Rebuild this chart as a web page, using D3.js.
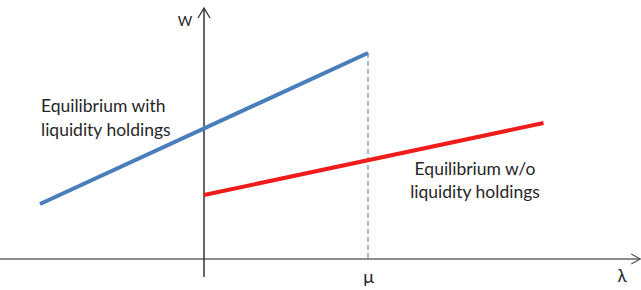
<!DOCTYPE html>
<html>
<head>
<meta charset="utf-8">
<script src="https://cdn.jsdelivr.net/npm/d3@7"></script>
<style>
  body { margin: 0; background: #fff; }
  svg { display: block; }
  text { font-family: Lato, "Open Sans", sans-serif; fill: #262626; }
</style>
</head>
<body>
<div id="chart"></div>
<script>
// lambda positions (vertical axis at 0, mu at 1)
const muValue = 1;
const blueLambda = [-1, 1];
const blueW = [0.55, 2.06];
const redLambda = [0, 2.07];
const redW = [0.64, 1.36];
const xLimits = [-1.245, 2.66];
const yLimits = [-0.18, 2.51];
const leftLabel = ["Equilibrium with", "liquidity holdings"];
const rightLabel = ["Equilibrium w/o", "liquidity holdings"];

const w = 641, h = 290;

const svg = d3.select('#chart')
  .append('svg')
  .attr('width', w)
  .attr('height', h);

const x = d3.scaleLinear().domain([0, 1]).range([204, 368]);
const y = d3.scaleLinear().domain([0, 2.5]).range([259, 9]);

// horizontal axis
svg.append('line')
  .attr('x1', x(xLimits[0])).attr('x2', x(xLimits[1]))
  .attr('y1', y(0)).attr('y2', y(0))
  .attr('stroke', '#8c8c8c').attr('stroke-width', 2);
svg.append('path')
  .attr('d', `M${x(xLimits[1]) - 9},${y(0) - 5} L${x(xLimits[1])},${y(0)} L${x(xLimits[1]) - 9},${y(0) + 5}`)
  .attr('fill', 'none').attr('stroke', '#555').attr('stroke-width', 1.2);

// vertical axis
svg.append('line')
  .attr('x1', x(0)).attr('x2', x(0))
  .attr('y1', y(yLimits[0])).attr('y2', y(yLimits[1]))
  .attr('stroke', '#333').attr('stroke-width', 1.5);
svg.append('path')
  .attr('d', `M${x(0) - 6},${y(yLimits[1]) + 10} L${x(0)},${y(yLimits[1])} L${x(0) + 6},${y(yLimits[1]) + 10}`)
  .attr('fill', 'none').attr('stroke', '#333').attr('stroke-width', 1.3);

// mu tick label via axis
const muAxis = svg.append('g')
  .attr('transform', `translate(0,${y(0) + 8})`)
  .call(d3.axisBottom(x).tickValues([muValue]).tickSize(0).tickFormat(() => 'μ'));
muAxis.select('.domain').remove();
muAxis.selectAll('text')
  .style('font-family', 'Lato, sans-serif')
  .style('font-size', '18px')
  .attr('fill', '#262626');

// axis titles
svg.append('text')
  .attr('x', 185).attr('y', 26)
  .attr('text-anchor', 'middle')
  .style('font-size', '14px')
  .text('W');
svg.append('text')
  .attr('x', 622).attr('y', 282)
  .attr('text-anchor', 'middle')
  .style('font-size', '17px')
  .text('λ');

// dashed drop line at mu
svg.append('line')
  .attr('x1', x(muValue)).attr('x2', x(muValue))
  .attr('y1', y(blueW[1])).attr('y2', y(0))
  .attr('stroke', '#7fa6d8').attr('stroke-width', 1.5)
  .attr('stroke-dasharray', '5,3');

const line = d3.line().x(d => x(d[0])).y(d => y(d[1]));

svg.append('path')
  .datum(d3.zip(blueLambda, blueW))
  .attr('d', line)
  .attr('fill', 'none')
  .attr('stroke', '#4a7ebb')
  .attr('stroke-width', 4);

svg.append('path')
  .datum(d3.zip(redLambda, redW))
  .attr('d', line)
  .attr('fill', 'none')
  .attr('stroke', '#f01c1c')
  .attr('stroke-width', 4);

// labels
svg.append('text')
  .attr('x', 41).attr('y', 112)
  .style('font-size', '17.5px')
  .selectAll('tspan')
  .data(leftLabel)
  .enter()
  .append('tspan')
  .attr('x', 41)
  .attr('dy', (d, i) => i === 0 ? 0 : 24)
  .text(d => d);

svg.append('text')
  .attr('x', 475).attr('y', 175)
  .attr('text-anchor', 'middle')
  .style('font-size', '17.5px')
  .selectAll('tspan')
  .data(rightLabel)
  .enter()
  .append('tspan')
  .attr('x', 475)
  .attr('dy', (d, i) => i === 0 ? 0 : 23)
  .text(d => d);
</script>
</body>
</html>
